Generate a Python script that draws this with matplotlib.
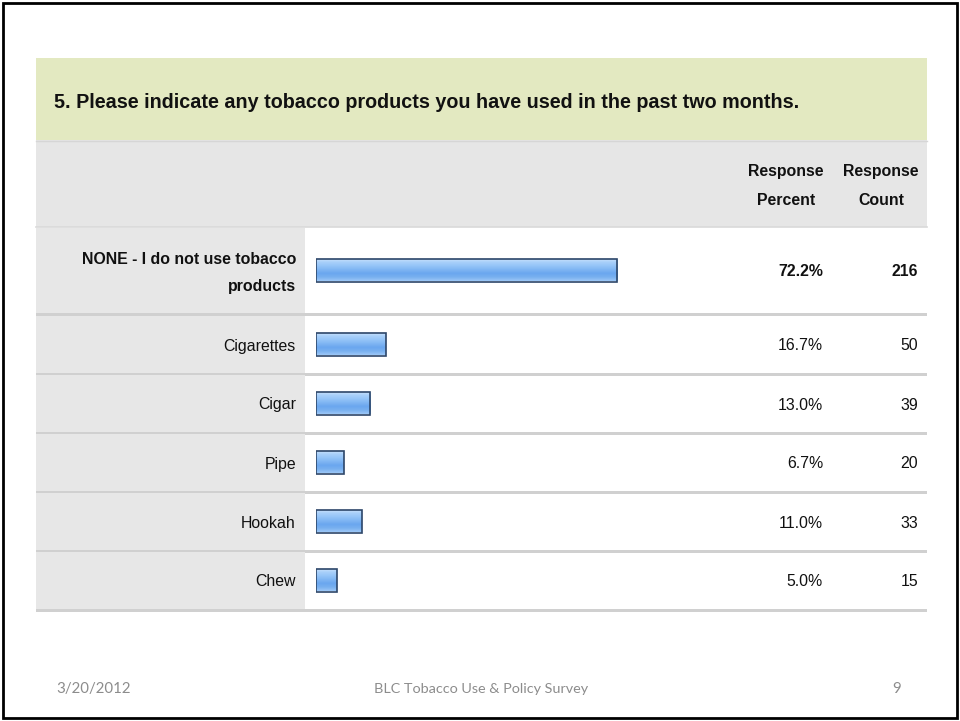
import matplotlib
matplotlib.use("Agg")
import matplotlib.pyplot as plt
import numpy as np
from matplotlib.patches import Rectangle
from matplotlib import font_manager
from matplotlib.colors import LinearSegmentedColormap

categories = ["NONE - I do not use tobacco\nproducts", "Cigarettes", "Cigar", "Pipe", "Hookah", "Chew"]
percents = [72.2, 16.7, 13.0, 6.7, 11.0, 5.0]
counts = [216, 50, 39, 20, 33, 15]
title = "5. Please indicate any tobacco products you have used in the past two months."
col_headers = ["Response\nPercent", "Response\nCount"]
footer_date = "3/20/2012"
footer_mid = "BLC Tobacco Use & Policy Survey"
footer_page = "9"

names = {f.name for f in font_manager.fontManager.ttflist}
narrow = "Liberation Sans Narrow" if "Liberation Sans Narrow" in names else "Liberation Sans"
foot_font = "Lato" if "Lato" in names else "DejaVu Sans"

W, H = 960, 721
fig = plt.figure(figsize=(W / 100, H / 100), dpi=100)
ax = fig.add_axes([0, 0, 1, 1])
ax.set_xlim(0, W)
ax.set_ylim(H, 0)
ax.axis("off")

# outer border
ax.add_patch(Rectangle((3, 3), 954, 715, fill=False, ec="black", lw=2.0))

L, R = 36, 927
# title band
ax.add_patch(Rectangle((L, 58), R - L, 82, fc="#e3e9c1", ec="none"))
ax.text(54, 102, title, fontsize=14.2, fontweight="bold", family=narrow, color="#111111", va="center", ha="left")
# header band
ax.add_patch(Rectangle((L, 140), R - L, 87, fc="#e6e6e6", ec="none"))
ax.plot([L, R], [140.5, 140.5], color="#d6d6d6", lw=1)
ax.plot([L, R], [227, 227], color="#d9d9d9", lw=1.2)
ax.text(786, 186, col_headers[0], fontsize=11.4, fontweight="bold", family=narrow, ha="center", va="center",
        linespacing=2.1, color="#111111")
ax.text(881, 186, col_headers[1], fontsize=11.4, fontweight="bold", family=narrow, ha="center", va="center",
        linespacing=2.1, color="#111111")

row_tops = [228, 316, 375, 434, 493, 552]
row_bots = [312, 372, 431, 490, 549, 608]
centers = [(a + b) / 2 for a, b in zip(row_tops, row_bots)]

for i, (t, b) in enumerate(zip(row_tops, row_bots)):
    ax.add_patch(Rectangle((L, t), 305 - L, b - t + 1, fc="#e7e7e7", ec="none"))
    ax.add_patch(Rectangle((L, b + 1), R - L, 3, fc="#d0d0d0", ec="none"))
    bold = i == 0
    ax.text(296, centers[i] + (3 if bold else 2), categories[i], fontsize=11.4,
            fontweight="bold" if bold else "normal", family=narrow, ha="right", va="center",
            linespacing=2.0, color="#111111")
    ax.text(823, centers[i] + 2, f"{percents[i]:.1f}%", fontsize=11.4, fontweight="bold" if bold else "normal",
            family=narrow, ha="right", va="center", color="#111111")
    ax.text(918, centers[i] + 2, f"{counts[i]}", fontsize=11.4, fontweight="bold" if bold else "normal",
            family=narrow, ha="right", va="center", color="#111111")

# bar axes: 0..100 % spans x 316..733 px
bx0, bx1 = 316, 733
bax = fig.add_axes([bx0 / W, 0, (bx1 - bx0) / W, 1])
bax.set_xlim(0, 100)
bax.set_ylim(H, 0)
bax.axis("off")
bars = bax.barh(centers, percents, height=23, left=0, color="#8ec0f5", edgecolor="#2c4669", linewidth=1.2, zorder=2)
cmap = LinearSegmentedColormap.from_list("g", ["#d2e6fb", "#a9d0fa", "#95c5f8", "#80b6f3", "#6aa6ef", "#78b0f0", "#9ac6f6"])
for p in bars:
    x, y, w, h = p.get_x(), p.get_y(), p.get_width(), p.get_height()
    im = bax.imshow(np.linspace(0, 1, 50).reshape(-1, 1), cmap=cmap, aspect="auto",
                    extent=[x, x + w, y + h, y], zorder=2.5, interpolation="bilinear")
    im.set_clip_path(p)
    p.set_facecolor("none")
    p.set_zorder(3)
bax.set_xlim(0, 100)
bax.set_ylim(H, 0)

# footer
ax.text(56, 689, footer_date, fontsize=10.8, family=foot_font, color="#8c8c8c", ha="left", va="center")
ax.text(481, 689, footer_mid, fontsize=10.4, family=foot_font, color="#8c8c8c", ha="center", va="center")
ax.text(897, 689, footer_page, fontsize=10.8, family=foot_font, color="#8c8c8c", ha="center", va="center")

fig.savefig("out.png", dpi=100)
